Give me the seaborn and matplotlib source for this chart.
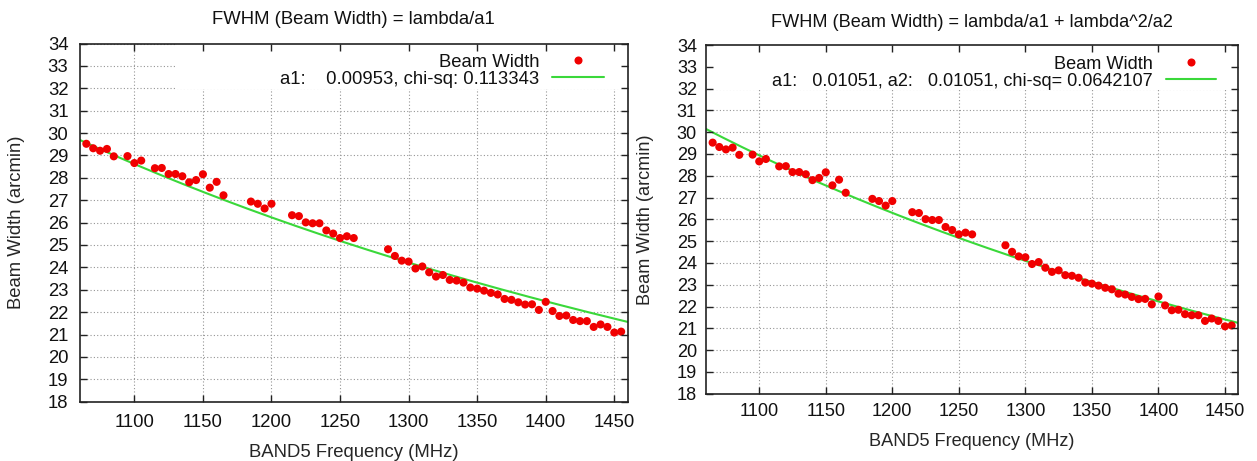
import numpy as np
import pandas as pd
import matplotlib
matplotlib.use("Agg")
import matplotlib.pyplot as plt
import seaborn as sns
from matplotlib.lines import Line2D
from matplotlib.patches import Rectangle

# ---------------- data ----------------
freq_mhz = [1065, 1070, 1075, 1080, 1085, 1095, 1100, 1105, 1115, 1120,
            1125, 1130, 1135, 1140, 1145, 1150, 1155, 1160, 1165,
            1185, 1190, 1195, 1200,
            1215, 1220, 1225, 1230, 1235, 1240, 1245, 1250, 1255, 1260,
            1285, 1290, 1295, 1300, 1305, 1310, 1315, 1320, 1325, 1330,
            1335, 1340, 1345, 1350, 1355, 1360, 1365, 1370, 1375, 1380,
            1385, 1390, 1395, 1400, 1405, 1410, 1415, 1420, 1425, 1430,
            1435, 1440, 1445, 1450, 1455]
beam_width = [29.52, 29.32, 29.21, 29.29, 28.96, 28.97, 28.66, 28.77, 28.43, 28.44,
              28.17, 28.17, 28.07, 27.80, 27.90, 28.16, 27.56, 27.82, 27.22,
              26.94, 26.84, 26.63, 26.84,
              26.33, 26.29, 26.01, 25.97, 25.97, 25.65, 25.51, 25.31, 25.39, 25.31,
              24.81, 24.51, 24.30, 24.26, 23.95, 24.04, 23.78, 23.59, 23.66, 23.44,
              23.41, 23.32, 23.10, 23.05, 22.96, 22.86, 22.79, 22.59, 22.55, 22.44,
              22.34, 22.35, 22.10, 22.46, 22.05, 21.83, 21.85, 21.65, 21.60, 21.60,
              21.34, 21.45, 21.34, 21.09, 21.13]

# fit parameters
a1_left = 0.00953          # model: lambda/a1
chisq_left = 0.113343
a1_right = 0.01051         # model: lambda/a1 + lambda^2/a2
a2_right_display = 0.01051
a2_right_fit = 0.0249
chisq_right = 0.0642107

x_ticks = list(range(1100, 1451, 50))
y_ticks = list(range(18, 35))

titles = ["FWHM (Beam Width) = lambda/a1",
          "FWHM (Beam Width) = lambda/a1 + lambda^2/a2"]
xlabel = "BAND5 Frequency (MHz)"
ylabel = "Beam Width (arcmin)"
fit_labels = ["a1:    %.5f, chi-sq: %g" % (a1_left, chisq_left),
              "a1:   %.5f, a2:   %.5f, chi-sq= %g" % (a1_right, a2_right_display, chisq_right)]

# ---------------- style ----------------
sns.set_style("white")
plt.rcParams["font.family"] = ["Liberation Sans", "DejaVu Sans"]
plt.rcParams["text.color"] = "#111111"

RED = "#f00000"
GREEN = "#3ad83a"
GRID = "#959595"

df = pd.DataFrame({"freq": freq_mhz, "bw": beam_width})
f_fine = np.linspace(1060, 1460, 400)
lam = 300.0 / f_fine
fits = [lam / a1_left, lam / a1_right + lam ** 2 / a2_right_fit]

W, H = 1257, 461
fig = plt.figure(figsize=(W / 100, H / 100), dpi=100)
fig.patch.set_facecolor("white")

# pixel boxes (left, top, right, bottom) for each panel
boxes = [(79.5, 43.5, 628.0, 401.7), (706.0, 45.0, 1238.3, 393.7)]
fsizes = [13.3, 13.1]
title_pads = [14.0, 13.0]
legend_anchor = [(0.956, 0.971), (0.959, 0.969)]
cover_left = [0.178, 0.0]
cover_bottom = [0.874, 0.871]
ytick_pad = [8.0, 6.5]
xtick_pad = [9.0, 7.0]
xlabel_pad = [9.5, 9.0]

for i in range(2):
    l, t, r, b = boxes[i]
    pos = [l / W, 1 - b / H, (r - l) / W, (b - t) / H]
    fs = fsizes[i]
    ax = fig.add_axes(pos)
    ax.set_xlim(1060, 1460)
    ax.set_ylim(18, 34)
    ax.set_xticks(x_ticks)
    ax.set_yticks(y_ticks)
    ax.set_axisbelow(True)
    ax.grid(True, color=GRID, linestyle=(0, (1, 2)), linewidth=0.8)
    for s in ax.spines.values():
        s.set_visible(False)
    ax.tick_params(axis="both", length=0, labelsize=fs, labelcolor="#111111")
    ax.tick_params(axis="x", pad=xtick_pad[i])
    ax.tick_params(axis="y", pad=ytick_pad[i])

    # white key area covering the grid (as gnuplot draws its key)
    ax.add_patch(Rectangle((cover_left[i], cover_bottom[i]), 0.99 - cover_left[i],
                           1.0 - cover_bottom[i], transform=ax.transAxes,
                           facecolor="white", edgecolor="none", zorder=1))

    sns.lineplot(x=f_fine, y=fits[i], ax=ax, color=GREEN, linewidth=1.5,
                 sort=False, errorbar=None, zorder=3)
    sns.scatterplot(data=df, x="freq", y="bw", ax=ax, color=RED, s=34,
                    edgecolor="none", linewidth=0, zorder=4, legend=False)

    ax.set_xlabel(xlabel, fontsize=fs, labelpad=xlabel_pad[i])
    ax.set_ylabel(ylabel, fontsize=fs, labelpad=16)
    ax.set_title(titles[i], fontsize=fs, pad=title_pads[i])

    handles = [Line2D([], [], marker="o", linestyle="none", color=RED,
                      markersize=5.8, markeredgewidth=0),
               Line2D([], [], color=GREEN, linewidth=1.5)]
    ax.legend(handles, ["Beam Width", fit_labels[i]], loc="upper right",
              bbox_to_anchor=legend_anchor[i], frameon=False, markerfirst=False,
              borderpad=0, borderaxespad=0, handlelength=2.8, handletextpad=0.7,
              labelspacing=0.0, fontsize=fs)

    # overlay axes for the border and inward ticks on all four sides
    axt = fig.add_axes(pos, sharex=ax, sharey=ax)
    axt.patch.set_alpha(0)
    axt.set_zorder(ax.get_zorder() + 1)
    axt.grid(False)
    for s in axt.spines.values():
        s.set_visible(True)
        s.set_color("#222222")
        s.set_linewidth(1.2)
    axt.tick_params(axis="both", direction="in", length=5, width=1.0,
                    color="#222222", top=True, right=True, bottom=True, left=True,
                    labelbottom=False, labelleft=False)
    axt.set_xlabel("")
    axt.set_ylabel("")

fig.savefig("out.png", dpi=100, facecolor="white")
